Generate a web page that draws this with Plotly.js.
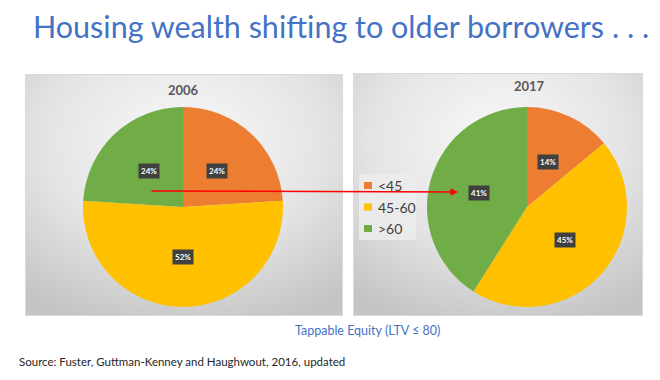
<!DOCTYPE html>
<html><head><meta charset="utf-8">
<script src="https://cdn.plot.ly/plotly-3.0.1.min.js"></script>
<style>html,body{margin:0;padding:0;background:#fff;} #chart{width:660px;height:380px;}</style>
</head><body><div id="chart"></div>
<script>
// ---- data ----
const ageGroups = ['<45', '45-60', '>60'];
const years = ['2006', '2017'];
const share2006 = [24, 52, 24];
const share2017 = [14, 45, 41];
const sliceColors = ['#ED7D31', '#FFC000', '#70AD47'];
const chartTitle = 'Housing wealth shifting to older borrowers . . .';
const captionText = 'Tappable Equity (LTV \u2264 80)';
const sourceText = 'Source: Fuster, Guttman-Kenney and Haughwout, 2016, updated';

// ---- layout helpers ----
const W = 660, H = 380;
const R = 100;
const pies = [
  {values: share2006, cx: 183, cy: 207, titleY: 90, titleX: 183},
  {values: share2017, cx: 527, cy: 207, titleY: 86, titleX: 529}
];
const panels = [{x0: 25, x1: 343, y0: 74, y1: 316}, {x0: 353, x1: 643, y0: 73, y1: 316}];
const px = v => v / W;
const py = v => (H - v) / H;

function panelImage(w, h) {
  const svg = `<svg xmlns="http://www.w3.org/2000/svg" width="${w}" height="${h}" viewBox="0 0 ${w} ${h}" preserveAspectRatio="none">` +
    `<defs><radialGradient id="g" cx="50%" cy="28%" r="80%"><stop offset="0" stop-color="#f9f9f9"/><stop offset="0.55" stop-color="#e4e4e4"/><stop offset="1" stop-color="#c4c4c4"/></radialGradient></defs>` +
    `<rect x="0.5" y="0.5" width="${w-1}" height="${h-1}" fill="url(#g)" stroke="#d9d9d9" stroke-width="1"/></svg>`;
  return 'data:image/svg+xml;charset=utf-8,' + encodeURIComponent(svg);
}

const traces = pies.map((p, k) => ({
  type: 'pie',
  labels: ageGroups,
  values: p.values,
  name: years[k],
  sort: false,
  direction: 'clockwise',
  rotation: 0,
  textinfo: 'none',
  marker: {colors: sliceColors, line: {width: 0}},
  showlegend: false,
  domain: {x: [px(p.cx - R), px(p.cx + R)], y: [py(p.cy + R), py(p.cy - R)]}
}));

const annotations = [];
const shapes = [];
const images = panels.map(pn => ({
  source: panelImage(pn.x1 - pn.x0, pn.y1 - pn.y0),
  xref: 'paper', yref: 'paper', x: px(pn.x0), y: py(pn.y0),
  sizex: (pn.x1 - pn.x0) / W, sizey: (pn.y1 - pn.y0) / H,
  xanchor: 'left', yanchor: 'top', sizing: 'stretch', layer: 'below'
}));

// slice percent labels, placed from the data (mid-angle of each slice)
pies.forEach((p, k) => {
  const total = p.values.reduce((a, b) => a + b, 0);
  let cum = 0;
  p.values.forEach(v => {
    const mid = (cum + v / 2) / total * 2 * Math.PI;
    cum += v;
    annotations.push({
      xref: 'paper', yref: 'paper', xanchor: 'center', yanchor: 'middle',
      x: px(p.cx + 0.5 * R * Math.sin(mid)), y: py(p.cy - 0.5 * R * Math.cos(mid)),
      text: '<b>' + Math.round(v / total * 100) + '%</b>', showarrow: false,
      font: {family: 'Lato, sans-serif', size: 8, color: '#ffffff'},
      bgcolor: '#404040', borderpad: 2
    });
  });
  annotations.push({
    xref: 'paper', yref: 'paper', xanchor: 'center', yanchor: 'middle', x: px(p.titleX), y: py(p.titleY),
    text: '<b>' + years[k] + '</b>', showarrow: false,
    font: {family: 'Lato, sans-serif', size: 13, color: '#595959'}
  });
});

// legend built from the categories
shapes.push({type: 'rect', xref: 'paper', yref: 'paper', x0: px(359), x1: px(416), y0: py(240), y1: py(174),
  fillcolor: 'rgba(236,236,236,0.85)', line: {width: 0}, layer: 'above'});
ageGroups.forEach((g, i) => {
  const yc = 185.5 + i * 21.5;
  shapes.push({type: 'rect', xref: 'paper', yref: 'paper', x0: px(364), x1: px(372), y0: py(yc + 3.5), y1: py(yc - 3.5),
    fillcolor: sliceColors[i], line: {width: 0}, layer: 'above'});
  annotations.push({xref: 'paper', yref: 'paper', x: px(376), y: py(yc), xanchor: 'left', yanchor: 'middle',
    text: g.replace('<', '&lt;').replace('>', '&gt;'), showarrow: false,
    font: {family: 'Lato, sans-serif', size: 14, color: '#404040'}});
});

// red arrow
annotations.push({xref: 'paper', yref: 'paper', x: px(458), y: py(192), ax: -308, ay: -1,
  text: '', showarrow: true, arrowhead: 2, arrowsize: 1, arrowwidth: 1.5, arrowcolor: '#FF0000', standoff: 0});

// caption & source
annotations.push({xref: 'paper', yref: 'paper', xanchor: 'center', yanchor: 'middle', x: px(367), y: py(330), text: captionText, showarrow: false,
  font: {family: 'Lato, sans-serif', size: 12.5, color: '#4472C4'}});
annotations.push({xref: 'paper', yref: 'paper', x: px(17), y: py(361), xanchor: 'left', yanchor: 'middle', text: sourceText, showarrow: false,
  font: {family: 'Lato, sans-serif', size: 11.5, color: '#262626'}});

const layout = {
  width: W, height: H,
  margin: {l: 0, r: 0, t: 0, b: 0},
  paper_bgcolor: '#ffffff',
  title: {text: chartTitle, x: px(33), xanchor: 'left', xref: 'paper', y: 1 - 27 / H, yanchor: 'middle', yref: 'container',
    font: {family: 'Lato, sans-serif', size: 30.5, color: '#4472C4'}},
  showlegend: false,
  annotations, shapes, images
};

Plotly.newPlot('chart', traces, layout, {displayModeBar: false, staticPlot: true});
</script></body></html>
